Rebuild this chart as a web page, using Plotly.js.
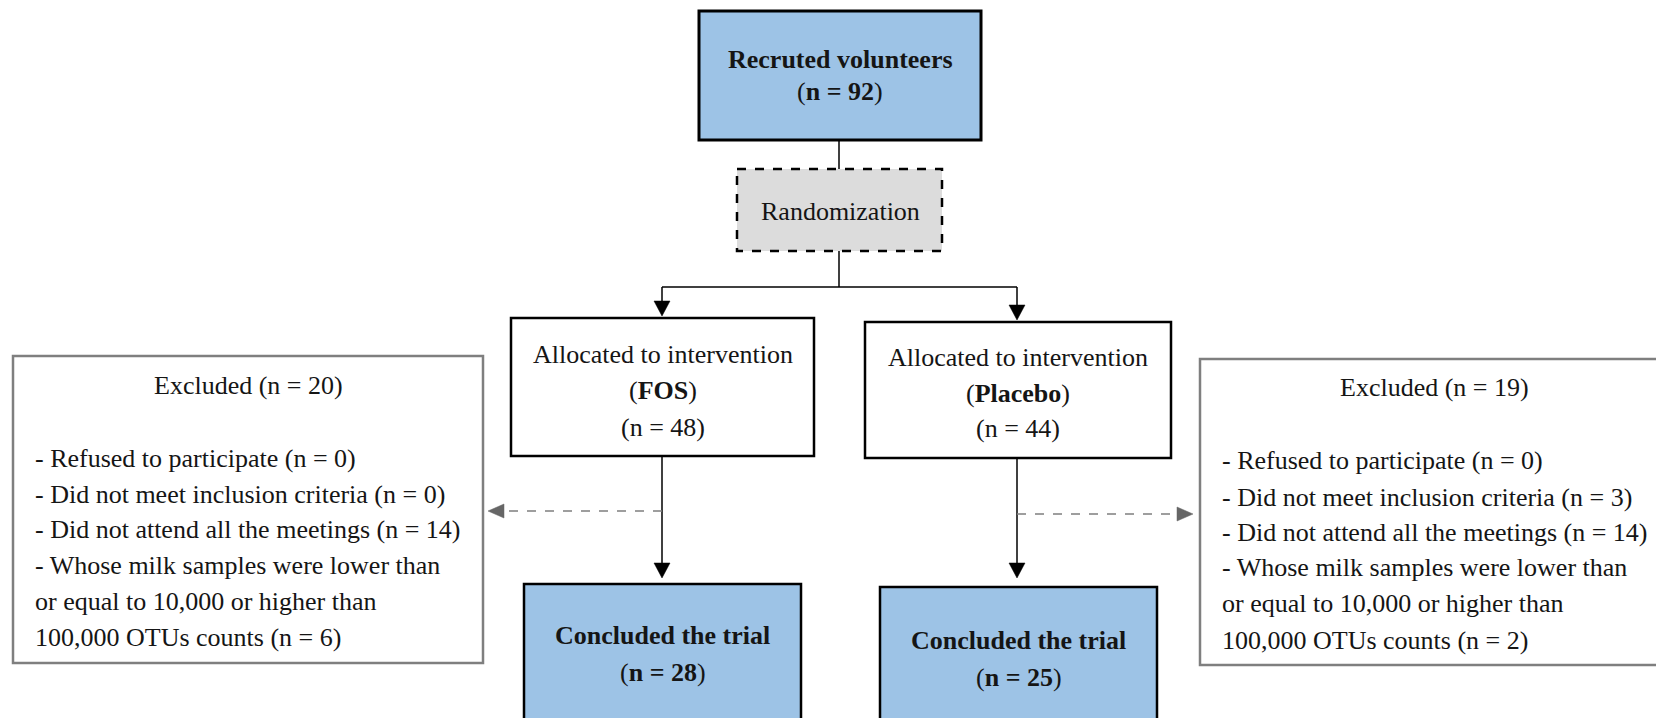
<!DOCTYPE html>
<html>
<head>
<meta charset="utf-8">
<script src="https://cdn.plot.ly/plotly-3.0.1.min.js"></script>
<style>html,body{margin:0;padding:0;background:#fff;}#chart{width:1656px;height:718px;}</style>
</head>
<body>
<div id="chart"></div>
<script>
// ---- data ----
const recruitedLabel = 'Recruted volunteers';
const recruited = [92];
const randomLabel = 'Randomization';
const allocLabel = 'Allocated to intervention';
const groups = ['FOS', 'Placebo'];
const allocated = [48, 44];
const concludedLabel = 'Concluded the trial';
const concluded = [28, 25];
const excludedTotal = [20, 19];
const reasonLines = [
  ['Refused to participate'],
  ['Did not meet inclusion criteria'],
  ['Did not attend all the meetings'],
  ['Whose milk samples were lower than', 'or equal to 10,000 or higher than', '100,000 OTUs counts']
];
const reasonCountsFOS = [0, 0, 14, 6];
const reasonCountsPlacebo = [0, 3, 14, 2];

// ---- geometry (layout only) ----
const FONT = 'Liberation Serif, Times New Roman, serif';
const TXT = '#151515';
const BLUE = '#9DC3E6';
const GRAY = '#DCDCDC';
const EXB = '#7f7f7f';

const shapes = [];
const ann = [];
function rect(x0, y0, x1, y1, fill, color, width, dash) {
  shapes.push({type: 'rect', xref: 'x', yref: 'y', x0, y0, x1, y1,
    fillcolor: fill, line: {color, width, dash: dash || 'solid'}, layer: 'below'});
}
function line(x0, y0, x1, y1, color, width, dash) {
  shapes.push({type: 'line', xref: 'x', yref: 'y', x0, y0, x1, y1,
    line: {color, width, dash: dash || 'solid'}});
}
function tri(pts, color) {
  const p = 'M' + pts.map(q => q[0] + ',' + q[1]).join(' L') + ' Z';
  shapes.push({type: 'path', xref: 'x', yref: 'y', path: p, fillcolor: color, line: {color, width: 0.5}});
}
function downArrow(x, yTip) { tri([[x - 8, yTip - 15], [x + 8, yTip - 15], [x, yTip]], '#000'); }
function text(x, y, t, anchor, size) {
  ann.push({xref: 'x', yref: 'y', x, y, text: t, showarrow: false,
    xanchor: anchor || 'center', yanchor: 'middle',
    font: {family: FONT, size: size || 26, color: TXT}});
}

// top box
rect(699, 11, 981, 140, BLUE, '#000', 3);
text(840, 59, '<b>' + recruitedLabel + '</b>');
text(840, 91, '(<b>n = ' + recruited[0] + '</b>)');
line(839, 140, 839, 169, '#000', 1.5);

// randomization
rect(737, 169, 942, 251, GRAY, '#000', 2.5, 'dash');
text(840, 211, randomLabel);
line(839, 251, 839, 287, '#000', 1.5);
line(662, 287, 1017, 287, '#000', 1.5);

// group columns
const colX = [662, 1017];
const allocBox = [[511, 318, 814, 456], [865, 322, 1171, 458]];
const allocTextY = [[354, 390, 427], [357, 393, 428]];
const conclBox = [[524, 584, 801, 740], [880, 587, 1157, 740]];
const conclTextY = [[635, 672], [640, 677]];
const allocArrowTip = [316, 320];

groups.forEach((g, i) => {
  const b = allocBox[i];
  line(colX[i], 287, colX[i], allocArrowTip[i] - 12, '#000', 1.5);
  downArrow(colX[i], allocArrowTip[i]);
  rect(b[0], b[1], b[2], b[3], '#fff', '#000', 2.5);
  const cx = (b[0] + b[2]) / 2;
  text(cx, allocTextY[i][0], allocLabel);
  text(cx, allocTextY[i][1], '(<b>' + g + '</b>)');
  text(cx, allocTextY[i][2], '(n = ' + allocated[i] + ')');
  line(colX[i], b[3], colX[i], 566, '#000', 1.5);
  downArrow(colX[i], 578);
  const c = conclBox[i];
  rect(c[0], c[1], c[2], c[3], BLUE, '#000', 2.5);
  const ccx = (c[0] + c[2]) / 2;
  text(ccx, conclTextY[i][0], '<b>' + concludedLabel + '</b>');
  text(ccx, conclTextY[i][1], '(<b>n = ' + concluded[i] + '</b>)');
});

// excluded boxes
const exBox = [[13, 356, 483, 663], [1200, 359, 1668, 665]];
const exTitle = [[248, 385], [1434, 387]];
const exLeftX = [33, 1220];
const exRowY = [[458, 494, 529, 565, 601, 637], [460, 497, 532, 567, 603, 640]];
const exCounts = [reasonCountsFOS, reasonCountsPlacebo];

[0, 1].forEach(i => {
  const b = exBox[i];
  rect(b[0], b[1], b[2], b[3], '#fff', EXB, 2.5);
  text(exTitle[i][0], exTitle[i][1], 'Excluded (n = ' + excludedTotal[i] + ')');
  let r = 0;
  reasonLines.forEach((lines, k) => {
    lines.forEach((l, j) => {
      let s = (j === 0 ? '- ' : '') + l;
      if (j === lines.length - 1) s += ' (n = ' + exCounts[i][k] + ')';
      text(exLeftX[i], exRowY[i][r], s, 'left');
      r++;
    });
  });
});

// dashed gray arrows
line(662, 511, 503, 511, EXB, 1.5, 'dash');
tri([[504, 504], [504, 518], [488, 511]], '#666');
line(1017, 514, 1178, 514, EXB, 1.5, 'dash');
tri([[1177, 507], [1177, 521], [1193, 514]], '#666');

const layout = {
  width: 1656, height: 718,
  margin: {l: 0, r: 0, t: 0, b: 0},
  paper_bgcolor: '#fff', plot_bgcolor: '#fff',
  showlegend: false,
  xaxis: {range: [0, 1656], visible: false, fixedrange: true},
  yaxis: {range: [718, 0], visible: false, fixedrange: true},
  shapes: shapes,
  annotations: ann
};
Plotly.newPlot('chart', [], layout, {displayModeBar: false, staticPlot: true});
</script>
</body>
</html>
